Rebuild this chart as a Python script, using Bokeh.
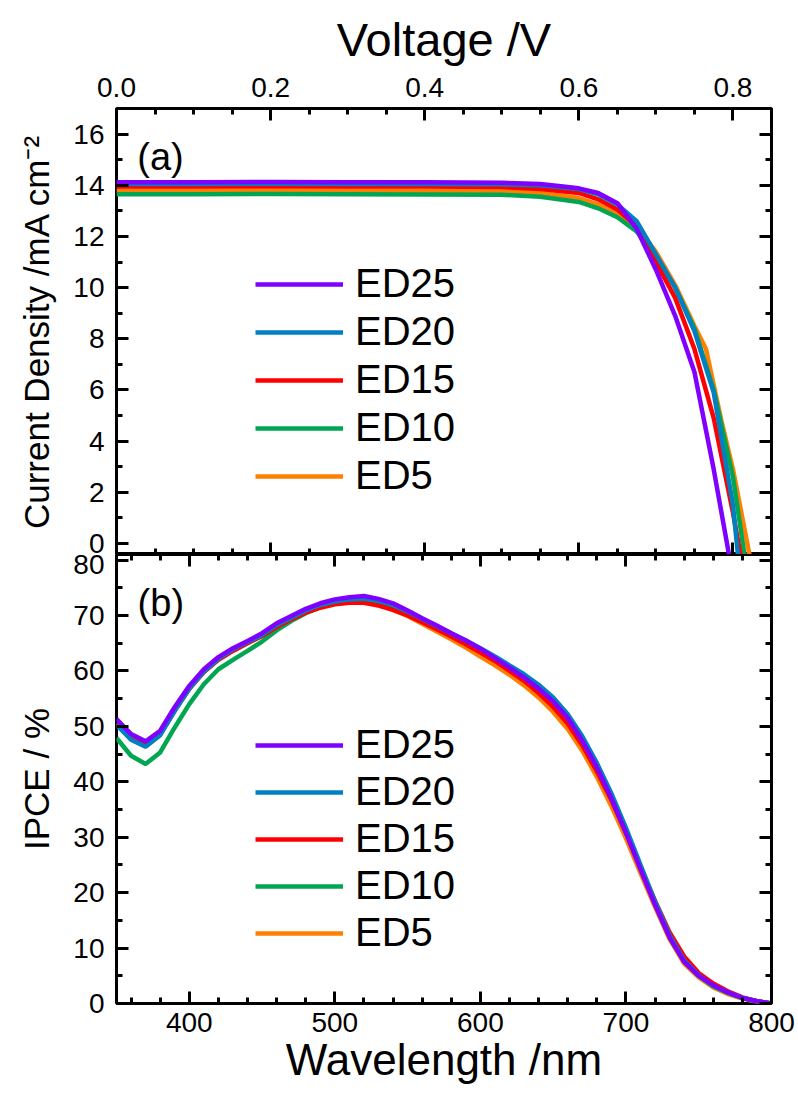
from bokeh.plotting import figure
from bokeh.models import LinearAxis, FixedTicker, Legend, LegendItem, Label, Range1d
from bokeh.layouts import column
from bokeh.embed import file_html
from bokeh.resources import INLINE

FONT = "Liberation Sans"

names = ["ED25", "ED20", "ED15", "ED10", "ED5"]
colors = ["#7F00FF", "#0080C0", "#FF0000", "#00A651", "#FF8000"]

# ---- (a) J-V curves ----
v_ed25 = [0, 0.1, 0.2, 0.3, 0.4, 0.5, 0.55, 0.6, 0.625, 0.65, 0.675, 0.7, 0.725, 0.75, 0.775, 0.8]
j_ed25 = [14.12, 14.12, 14.13, 14.12, 14.12, 14.1, 14.05, 13.88, 13.7, 13.3, 12.3, 10.7, 8.9, 6.7, 2.9, -1.3]
v_ed20 = [0, 0.1, 0.2, 0.3, 0.4, 0.5, 0.55, 0.6, 0.625, 0.65, 0.675, 0.7, 0.725, 0.75, 0.775, 0.8, 0.825]
j_ed20 = [14.05, 14.05, 14.06, 14.05, 14.05, 14.04, 14.0, 13.85, 13.65, 13.25, 12.6, 11.3, 10.0, 8.3, 5.9, 1.5, -6.0]
v_ed15 = [0, 0.1, 0.2, 0.3, 0.4, 0.5, 0.55, 0.6, 0.625, 0.65, 0.675, 0.7, 0.725, 0.75, 0.775, 0.8, 0.825]
j_ed15 = [13.95, 13.95, 13.96, 13.95, 13.95, 13.93, 13.85, 13.7, 13.45, 13.05, 12.4, 11.0, 9.6, 7.6, 4.9, 1.2, -3.0]
v_ed10 = [0, 0.1, 0.2, 0.3, 0.4, 0.5, 0.55, 0.6, 0.625, 0.65, 0.675, 0.7, 0.725, 0.75, 0.775, 0.8, 0.825]
j_ed10 = [13.65, 13.65, 13.66, 13.65, 13.64, 13.63, 13.55, 13.35, 13.1, 12.75, 12.2, 11.2, 10.0, 8.4, 6.0, 2.6, -2.5]
v_ed5 = [0, 0.1, 0.2, 0.3, 0.4, 0.5, 0.55, 0.6, 0.625, 0.65, 0.675, 0.7, 0.725, 0.75, 0.765, 0.785, 0.8, 0.825]
j_ed5 = [13.8, 13.8, 13.81, 13.8, 13.79, 13.78, 13.7, 13.5, 13.25, 12.9, 12.4, 11.4, 10.1, 8.5, 7.6, 4.8, 2.9, -1.0]

# ---- (b) IPCE spectra ----
wl = [350, 360, 370, 380, 390, 400, 410, 420, 430, 440, 450, 460, 470, 480, 490, 500,
      510, 520, 530, 540, 550, 560, 570, 580, 590, 600, 610, 620, 630, 640, 650, 660,
      670, 680, 690, 700, 710, 720, 730, 740, 750, 760, 770, 780, 790, 800]
ipce_ed25 = [51.3, 48.6, 47.3, 49.2, 53.5, 57.3, 60.3, 62.5, 64.1, 65.4, 66.8, 68.6, 69.9, 71.2, 72.2, 72.9,
             73.3, 73.5, 73.0, 72.2, 70.9, 69.5, 68.2, 66.8, 65.5, 64.0, 62.3, 60.6, 58.8, 56.8, 54.5, 51.5,
             47.4, 42.6, 37.0, 30.8, 24.2, 17.8, 11.9, 7.5, 5.0, 3.3, 2.0, 1.0, 0.4, 0.0]
ipce_ed20 = [50.3, 47.6, 46.3, 48.4, 52.8, 56.8, 59.9, 62.2, 63.9, 65.2, 66.5, 68.3, 69.6, 70.9, 71.9, 72.5,
             72.9, 73.0, 72.6, 71.9, 70.7, 69.4, 68.1, 66.8, 65.5, 64.1, 62.6, 61.0, 59.4, 57.5, 55.2, 52.2,
             48.2, 43.4, 37.9, 31.7, 25.0, 18.4, 12.3, 7.8, 5.1, 3.2, 2.0, 1.0, 0.4, 0.0]
ipce_ed15 = [50.5, 47.8, 46.6, 48.6, 52.9, 56.8, 59.8, 62.0, 63.6, 65.0, 66.3, 67.9, 69.3, 70.5, 71.4, 72.0,
             72.3, 72.3, 71.8, 71.0, 70.0, 68.8, 67.5, 66.2, 64.8, 63.3, 61.8, 60.0, 58.2, 56.0, 53.5, 50.5,
             46.6, 41.9, 36.7, 30.8, 24.6, 18.5, 12.8, 8.5, 5.5, 3.6, 2.2, 1.1, 0.4, 0.0]
ipce_ed10 = [47.9, 44.7, 43.2, 45.3, 49.8, 54.0, 57.6, 60.3, 62.0, 63.6, 65.3, 67.3, 69.0, 70.4, 71.5, 72.2,
             72.6, 72.7, 72.3, 71.5, 70.3, 69.0, 67.7, 66.4, 65.1, 63.7, 62.2, 60.6, 58.9, 57.0, 54.7, 51.7,
             47.7, 42.9, 37.4, 31.2, 24.6, 18.0, 12.0, 7.6, 5.0, 3.1, 1.9, 1.0, 0.4, 0.0]
ipce_ed5 = [50.4, 47.7, 46.4, 48.5, 52.8, 56.8, 59.8, 62.1, 63.7, 65.1, 66.4, 68.0, 69.4, 70.6, 71.5, 72.1,
            72.4, 72.4, 71.9, 71.0, 69.9, 68.5, 67.1, 65.7, 64.2, 62.6, 61.0, 59.3, 57.4, 55.2, 52.6, 49.5,
            45.6, 40.9, 35.6, 29.8, 23.5, 17.4, 11.6, 7.2, 4.7, 2.9, 1.7, 0.9, 0.3, 0.0]

# ---- tick definitions ----
v_major = [0.0, 0.2, 0.4, 0.6, 0.8]
v_labels = ["0.0", "0.2", "0.4", "0.6", "0.8"]
v_minor = [0.05, 0.1, 0.15, 0.25, 0.3, 0.35, 0.45, 0.5, 0.55, 0.65, 0.7, 0.75, 0.85]
j_major = [0, 2, 4, 6, 8, 10, 12, 14, 16]
j_minor = [1, 3, 5, 7, 9, 11, 13, 15]
wl_major = [400, 500, 600, 700, 800]
wl_minor = [360, 380, 420, 440, 460, 480, 520, 540, 560, 580, 620, 640, 660, 680, 720, 740, 760, 780]
ip_major = [0, 10, 20, 30, 40, 50, 60, 70, 80]
ip_minor = [5, 15, 25, 35, 45, 55, 65, 75]

W = 798
LEFT = 116
RIGHT = 27
TICK_FS = "28px"


def style_axis(ax):
    ax.axis_line_color = None
    ax.major_tick_in = 12
    ax.major_tick_out = 0
    ax.minor_tick_in = 6
    ax.minor_tick_out = 0
    ax.major_tick_line_width = 3
    ax.minor_tick_line_width = 3
    ax.major_tick_line_color = "black"
    ax.minor_tick_line_color = "black"
    ax.major_label_text_font = FONT
    ax.major_label_text_font_size = TICK_FS
    ax.major_label_text_color = "black"
    ax.major_label_standoff = 12
    ax.axis_label_text_font = FONT
    ax.axis_label_text_font_style = "normal"
    ax.axis_label_text_color = "black"


def tick_only_axes(p, side, major, minor):
    # unlabeled inward ticks: long ones at major positions, short ones at minor positions
    for pos, ln in ((major, 12), (minor, 6)):
        ax = LinearAxis(ticker=FixedTicker(ticks=[], minor_ticks=pos))
        ax.axis_line_color = None
        ax.minor_tick_in = ln
        ax.minor_tick_out = 0
        ax.minor_tick_line_width = 3
        ax.minor_tick_line_color = "black"
        ax.major_label_standoff = 0
        ax.axis_label_standoff = 0
        p.add_layout(ax, side)


def base_style(p):
    p.grid.visible = False
    p.outline_line_color = "black"
    p.outline_line_width = 3
    p.outline_line_alpha = 1
    p.background_fill_color = "white"
    p.border_fill_color = "white"


# ================= top panel =================
p1 = figure(width=W, height=554, x_range=Range1d(0, 0.85), y_range=Range1d(-0.43, 17),
            x_axis_location="above", output_backend="svg", toolbar_location=None,
            min_border_left=LEFT, min_border_right=RIGHT, min_border_top=108, min_border_bottom=0)
base_style(p1)

jv = [(v_ed25, j_ed25), (v_ed20, j_ed20), (v_ed15, j_ed15), (v_ed10, j_ed10), (v_ed5, j_ed5)]
r1 = {}
for i in [4, 3, 2, 1, 0]:
    v, j = jv[i]
    r1[i] = p1.line(v, j, line_color=colors[i], line_width=4.5)

p1.xaxis.ticker = FixedTicker(ticks=v_major, minor_ticks=v_minor)
p1.xaxis.major_label_overrides = {t: s for t, s in zip(v_major, v_labels)}
p1.xaxis.axis_label = "Voltage /V"
p1.yaxis.ticker = FixedTicker(ticks=j_major, minor_ticks=j_minor)
p1.yaxis.axis_label = "Current Density /mA cm\u207B\u00B2"
for ax in p1.xaxis + p1.yaxis:
    style_axis(ax)
p1.xaxis.axis_label_text_font_size = "47px"
p1.xaxis.axis_label_standoff = 9
p1.yaxis.axis_label_text_font_size = "35px"
p1.yaxis.axis_label_standoff = 14

tick_only_axes(p1, "below", v_major, v_minor)
tick_only_axes(p1, "right", j_major, j_minor)

leg1 = Legend(items=[LegendItem(label=names[i], renderers=[r1[i]]) for i in range(5)],
              location=(139, 56))
p1.add_layout(leg1, "center")
p1.add_layout(Label(x=0.027, y=15.1, text="(a)", text_font=FONT, text_font_size="38px",
                    text_baseline="middle", text_color="black"))

# ================= bottom panel =================
p2 = figure(width=W, height=541, x_range=Range1d(350, 800), y_range=Range1d(0, 81),
            output_backend="svg", toolbar_location=None,
            min_border_left=LEFT, min_border_right=RIGHT, min_border_top=0, min_border_bottom=92)
base_style(p2)

ip = [ipce_ed25, ipce_ed20, ipce_ed15, ipce_ed10, ipce_ed5]
r2 = {}
for i in [4, 3, 2, 1, 0]:
    r2[i] = p2.line(wl, ip[i], line_color=colors[i], line_width=4.5)

p2.xaxis.ticker = FixedTicker(ticks=wl_major, minor_ticks=wl_minor)
p2.xaxis.axis_label = "Wavelength /nm"
p2.yaxis.ticker = FixedTicker(ticks=ip_major, minor_ticks=ip_minor)
p2.yaxis.axis_label = "IPCE / %"
for ax in p2.xaxis + p2.yaxis:
    style_axis(ax)
p2.xaxis.axis_label_text_font_size = "44px"
p2.xaxis.axis_label_standoff = 0
p2.xaxis.major_label_standoff = 9
p2.yaxis.axis_label_text_font_size = "35px"
p2.yaxis.axis_label_standoff = 14

tick_only_axes(p2, "above", wl_major, wl_minor)
tick_only_axes(p2, "right", ip_major, ip_minor)

leg2 = Legend(items=[LegendItem(label=names[i], renderers=[r2[i]]) for i in range(5)],
              location=(139, 48))
p2.add_layout(leg2, "center")
p2.add_layout(Label(x=364.5, y=72.3, text="(b)", text_font=FONT, text_font_size="38px",
                    text_baseline="middle", text_color="black"))

for leg, sp in ((leg1, 3), (leg2, 2)):
    leg.label_text_font = FONT
    leg.label_text_font_size = "40px"
    leg.label_text_color = "black"
    leg.glyph_width = 88
    leg.glyph_height = 40
    leg.label_height = 40
    leg.label_standoff = 12
    leg.spacing = sp
    leg.padding = 0
    leg.margin = 0
    leg.border_line_color = None
    leg.background_fill_alpha = 0

layout = column(p1, p2, spacing=0)
open("out.html", "w").write(file_html(layout, INLINE))
